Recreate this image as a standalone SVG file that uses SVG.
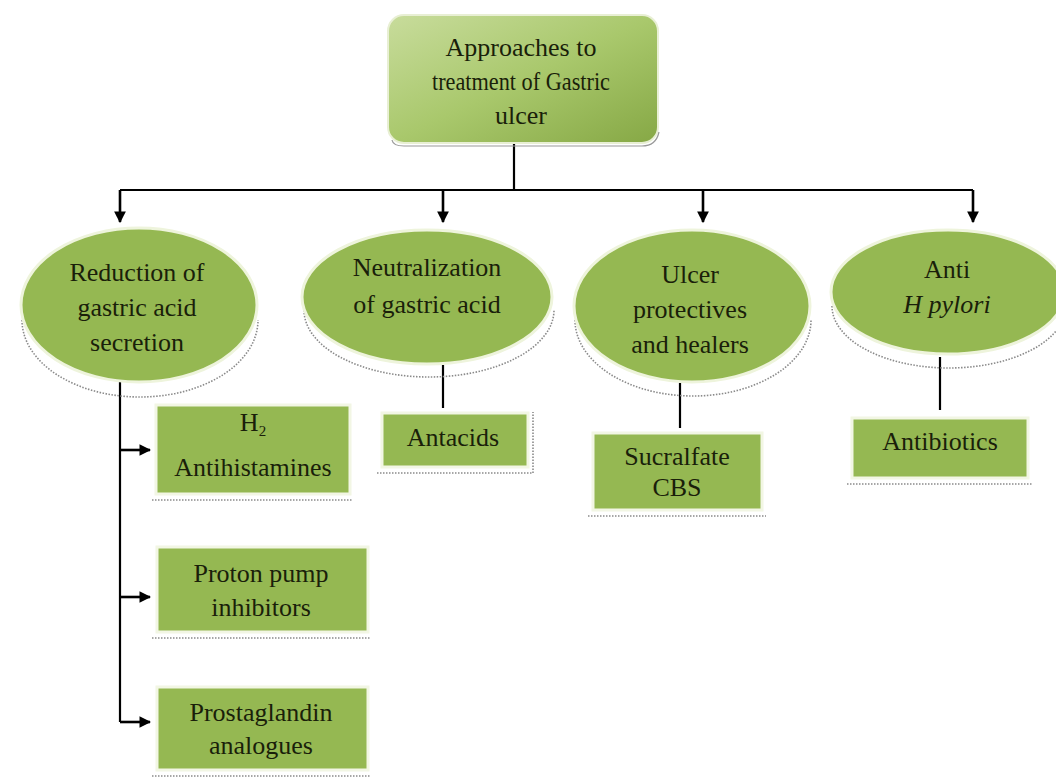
<svg xmlns="http://www.w3.org/2000/svg" width="1056" height="784" viewBox="0 0 1056 784">
<defs>
<linearGradient id="gTop" x1="0" y1="0" x2="1" y2="1">
<stop offset="0" stop-color="#c8dc9c"/>
<stop offset="0.5" stop-color="#a9c86c"/>
<stop offset="1" stop-color="#86a845"/>
</linearGradient>
<marker id="arr" viewBox="0 0 10 10" refX="9" refY="5" markerWidth="4.5" markerHeight="4.5" orient="auto" markerUnits="strokeWidth">
<path d="M0,0 L10,5 L0,10 Z" fill="#000"/>
</marker>
<style>
.txt{font-family:"Liberation Serif","Times New Roman",serif;font-size:26px;fill:#1a1f0a;text-anchor:middle}
.ell{fill:#95b852;stroke:#eef4dc;stroke-width:3}
.box{fill:#95b852;stroke:#f2f6e4;stroke-width:3}
.shadow{fill:none;stroke:#8a8a8a;stroke-width:1.6;stroke-dasharray:1.5 1.5}
.ln{fill:none;stroke:#000;stroke-width:2.2}
.ar{fill:none;stroke:#000;stroke-width:2.6;marker-end:url(#arr)}
</style>
</defs>
<rect width="1056" height="784" fill="#fff"/>

<g id="connectors">
<path class="ln" d="M514,143 V190"/>
<path class="ln" d="M120,190 H973"/>
<path class="ar" d="M120,190 V222"/>
<path class="ar" d="M443,190 V222"/>
<path class="ar" d="M703,190 V222"/>
<path class="ar" d="M973,190 V222"/>
<path class="ln" d="M120,382 V722"/>
<path class="ar" d="M120,450 H150"/>
<path class="ar" d="M120,597 H150"/>
<path class="ar" d="M120,722 H150"/>
<path class="ln" d="M443,365 V408"/>
<path class="ln" d="M680,383 V428"/>
<path class="ln" d="M940,357 V410"/>
</g>

<g id="root">
<rect x="388" y="15" width="270" height="128" rx="16" ry="16" fill="url(#gTop)" stroke="#e8efd4" stroke-width="2"/>
<path d="M392,140 Q393,146 404,146 H642 Q656,146 659,132" fill="none" stroke="#9a9a9a" stroke-width="1.2"/>
<text class="txt" x="521" y="56" font-size="25">Approaches to</text>
<text class="txt" x="521" y="90" font-size="25" textLength="178" lengthAdjust="spacingAndGlyphs">treatment of Gastric</text>
<text class="txt" x="521" y="124" font-size="25">ulcer</text>
</g>

<g id="reduction">
<path class="shadow" d="M22,320 A118,77 0 0 0 258,320"/>
<ellipse class="ell" cx="139" cy="305" rx="118" ry="77"/>
<text class="txt" x="137" y="281">Reduction of</text>
<text class="txt" x="137" y="316">gastric acid</text>
<text class="txt" x="137" y="351">secretion</text>
</g>

<g id="neutralization">
<path class="shadow" d="M304,310 A125,67 0 0 0 554,310"/>
<ellipse class="ell" cx="427" cy="297" rx="125" ry="67"/>
<text class="txt" x="427" y="276">Neutralization</text>
<text class="txt" x="427" y="313">of gastric acid</text>
</g>

<g id="protectives">
<path class="shadow" d="M575,320 A118,76 0 0 0 811,320"/>
<ellipse class="ell" cx="692" cy="306" rx="118" ry="76"/>
<text class="txt" x="690" y="283">Ulcer</text>
<text class="txt" x="690" y="318">protectives</text>
<text class="txt" x="690" y="353">and healers</text>
</g>

<g id="antihpylori">
<path class="shadow" d="M832,306 A117,62 0 0 0 1066,306"/>
<ellipse class="ell" cx="948" cy="292" rx="117" ry="62"/>
<text class="txt" x="947" y="278">Anti</text>
<text class="txt" x="947" y="313" font-style="italic">H pylori</text>
</g>

<g id="h2">
<path class="shadow" d="M152,500 H352"/>
<rect class="box" x="156" y="405" width="194" height="89"/>
<text class="txt" x="253" y="431">H<tspan font-size="15" dy="5">2</tspan></text>
<text class="txt" x="253" y="476">Antihistamines</text>
</g>

<g id="ppi">
<path class="shadow" d="M152,638 H370"/>
<rect class="box" x="157" y="547" width="211" height="85"/>
<text class="txt" x="261" y="582">Proton pump</text>
<text class="txt" x="261" y="616">inhibitors</text>
</g>

<g id="prostaglandin">
<path class="shadow" d="M152,776 H370"/>
<rect class="box" x="157" y="687" width="211" height="83"/>
<text class="txt" x="261" y="721">Prostaglandin</text>
<text class="txt" x="261" y="754">analogues</text>
</g>

<g id="antacids">
<path class="shadow" d="M377,473 H533 V412"/>
<rect class="box" x="382" y="413" width="146" height="54"/>
<text class="txt" x="453" y="446">Antacids</text>
</g>

<g id="sucralfate">
<path class="shadow" d="M588,516 H766"/>
<rect class="box" x="593" y="433" width="169" height="77"/>
<text class="txt" x="677" y="465">Sucralfate</text>
<text class="txt" x="677" y="496">CBS</text>
</g>

<g id="antibiotics">
<path class="shadow" d="M847,484 H1032"/>
<rect class="box" x="852" y="418" width="176" height="60"/>
<text class="txt" x="940" y="450">Antibiotics</text>
</g>
</svg>
